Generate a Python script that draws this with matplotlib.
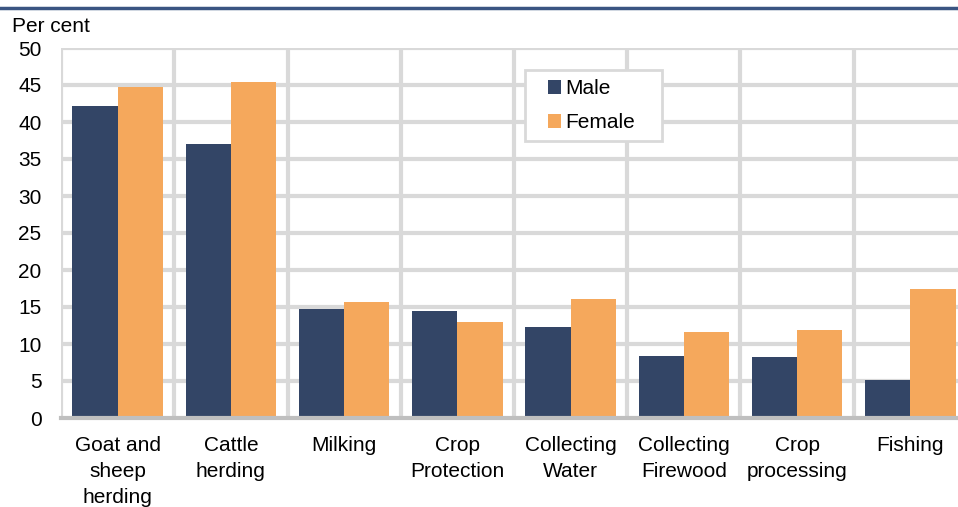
import matplotlib
matplotlib.use("Agg")
import matplotlib.pyplot as plt
from matplotlib.lines import Line2D
from matplotlib.patches import Rectangle
import numpy as np

plt.rcParams['font.family'] = ['Liberation Sans', 'DejaVu Sans']

categories = ["Goat and\nsheep\nherding", "Cattle\nherding", "Milking", "Crop\nProtection",
              "Collecting\nWater", "Collecting\nFirewood", "Crop\nprocessing", "Fishing"]
male = [42.1, 37.0, 14.7, 14.5, 12.3, 8.4, 8.2, 5.1]
female = [44.7, 45.4, 15.7, 13.0, 16.1, 11.6, 11.9, 17.5]
yticks = [0, 5, 10, 15, 20, 25, 30, 35, 40, 45, 50]

male_color = "#334566"
female_color = "#F5A85C"
grid_color = "#D9D9D9"
fs = 15

fig = plt.figure(figsize=(9.58, 5.07), dpi=100)
ax = fig.add_axes([61/958, 1-418/507, 906/958, 370/507])

x = np.arange(len(categories))
w = 0.4
ax.bar(x - w/2, male, width=w, color=male_color, label="Male", zorder=3)
ax.bar(x + w/2, female, width=w, color=female_color, label="Female", zorder=3)

ax.set_xlim(-0.5, len(categories) - 0.5)
ax.set_ylim(0, 50)
ax.set_yticks(yticks)
ax.set_xticks(x)
ax.set_xticklabels(categories, fontsize=fs, linespacing=1.47)
ax.set_yticklabels([str(v) for v in yticks], fontsize=fs)
ax.tick_params(axis='both', length=0)
ax.tick_params(axis='x', pad=13)
ax.tick_params(axis='y', pad=14)

for yv in yticks[1:]:
    ax.axhline(yv, color=grid_color, lw=3, zorder=1)
for b in np.arange(-0.5, len(categories), 1.0):
    ax.axvline(b, color=grid_color, lw=3, zorder=1)

for s in ['top', 'right', 'left']:
    ax.spines[s].set_visible(False)
ax.spines['bottom'].set_color("#BFBFBF")
ax.spines['bottom'].set_linewidth(3)
ax.spines['bottom'].set_zorder(4)

# legend box
ax.add_patch(Rectangle((0.512, 0.749), 0.151, 0.192, transform=ax.transAxes,
                       facecolor='white', edgecolor=grid_color, lw=2, zorder=4))
leg = ax.legend(loc='upper left', bbox_to_anchor=(0.5375, 0.915), fontsize=fs,
                frameon=False, handlelength=0.62, handleheight=0.62, handletextpad=0.2,
                borderpad=0, labelspacing=0.72, borderaxespad=0)
leg.set_zorder(5)

fig.text(12/958, 1-27/507, "Per cent", fontsize=fs, va='center', ha='left')
fig.add_artist(Line2D([0, 1], [1-8/507, 1-8/507], color="#3A5582", lw=2.5,
                      transform=fig.transFigure))

fig.savefig("out.png", dpi=100)
